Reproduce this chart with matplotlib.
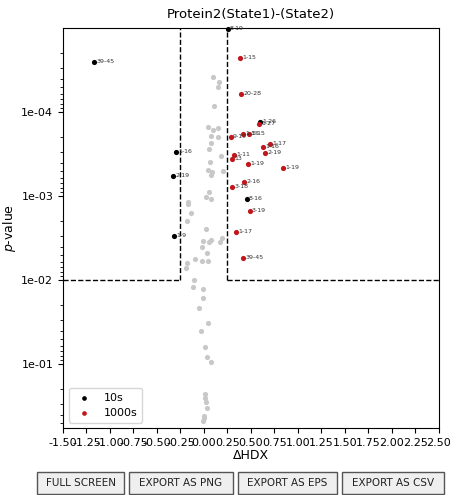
import numpy as np
import matplotlib
matplotlib.use('Agg')
import matplotlib.pyplot as plt
from matplotlib.patches import Rectangle
from matplotlib.ticker import FixedLocator, FuncFormatter

# Пороги
fc_thresh = 0.25
p_thresh = 0.01

# Незначимые точки (серые)
gray_x = [0.096, 0.160, 0.149, 0.106, 0.043, 0.096, 0.149, 0.074, 0.149, 0.074,
          0.053, 0.181, 0.064, 0.043, 0.085, 0.202, 0.074, 0.053, 0.021, 0.074,
          -0.170, -0.170, -0.138, -0.181, 0.021, -0.011, 0.053, 0.074, 0.191, 0.170,
          -0.021, 0.032, -0.096, -0.021, 0.043, -0.181, -0.191, -0.106, -0.117, -0.011,
          -0.011, -0.053, 0.043, -0.032, 0.011, 0.032, 0.074, 0.011, 0.011, 0.021,
          0.032, 0.000, 0.000, -0.011]
gray_p = [3.83e-5, 4.40e-5, 5.04e-5, 8.5e-5, 1.51e-4, 1.64e-4, 1.55e-4, 1.93e-4, 1.99e-4, 2.34e-4,
          2.75e-4, 3.34e-4, 3.94e-4, 4.90e-4, 5.18e-4, 5.04e-4, 5.62e-4, 8.95e-4, 1.03e-3, 1.09e-3,
          1.18e-3, 1.24e-3, 1.59e-3, 1.99e-3, 2.47e-3, 3.44e-3, 3.53e-3, 3.34e-3, 3.16e-3, 3.53e-3,
          4.05e-3, 4.78e-3, 5.62e-3, 5.94e-3, 5.94e-3, 6.28e-3, 7.19e-3, 1.0e-2, 1.21e-2, 1.28e-2,
          1.64e-2, 2.15e-2, 3.25e-2, 4.05e-2, 6.28e-2, 8.26e-2, 9.46e-2, 0.228, 0.254, 0.283,
          0.334, 0.416, 0.440, 0.478]

# 10s (чёрные)
t10_x = [0.255, -1.170, -0.298, -0.330, -0.319, 0.457, 0.596]
t10_p = [1.03e-5, 2.54e-5, 2.99e-4, 5.78e-4, 2.99e-3, 1.09e-3, 1.31e-4]
t10_lab = ['8-19', '39-45', '1-16', '2-19', '1-9', '8-16', '1-26']

# 1000s (красные)
t1000_x = [0.383, 0.394, 0.585, 0.287, 0.415, 0.479, 0.628, 0.702, 0.649, 0.319,
           0.298, 0.468, 0.840, 0.426, 0.298, 0.489, 0.340, 0.415]
t1000_p = [2.28e-5, 6.11e-5, 1.39e-4, 1.99e-4, 1.83e-4, 1.83e-4, 2.61e-4, 2.41e-4, 3.08e-4, 3.25e-4,
           3.63e-4, 4.16e-4, 4.64e-4, 6.81e-4, 7.81e-4, 1.51e-3, 2.68e-3, 5.47e-3]
t1000_lab = ['1-15', '20-28', '1-27', '9-19', '1-15', '5-15', '1-16', '1-17', '2-19', '1-11',
             '13', '1-19', '1-19', '2-16', '3-18', '3-19', '1-17', '39-45']

xticks = np.arange(-1.5, 2.51, 0.25)
yticks = [1e-4, 1e-3, 1e-2, 1e-1]

buttons = ['FULL SCREEN', 'EXPORT AS PNG', 'EXPORT AS EPS', 'EXPORT AS CSV']

red = '#c0161c'

fig = plt.figure(figsize=(4.53, 4.95), dpi=100)
ax = fig.add_axes([0.139, 0.135, 0.830, 0.808])

ax.scatter(gray_x, gray_p, s=14, color='#c8c8c8', linewidths=0, zorder=2)
ax.scatter(t10_x, t10_p, s=14, color='black', linewidths=0, label='10s', zorder=3, clip_on=False)
ax.scatter(t1000_x, t1000_p, s=14, color=red, linewidths=0, label='1000s', zorder=3)

for x, p, lab in zip(t10_x + t1000_x, t10_p + t1000_p, t10_lab + t1000_lab):
    ax.annotate(lab, (x, p), xytext=(1.5, 0.5), textcoords='offset points',
                fontsize=4.5, color='#333333', va='center', ha='left', annotation_clip=False)

# Пороговые линии
xmin, xmax = -1.5, 2.5
ymin, ymax = 0.578, 1.0e-5
ax.plot([xmin, -fc_thresh], [p_thresh, p_thresh], 'k--', lw=1)
ax.plot([fc_thresh, xmax], [p_thresh, p_thresh], 'k--', lw=1)
ax.plot([-fc_thresh, -fc_thresh], [p_thresh, ymax], 'k--', lw=1)
ax.plot([fc_thresh, fc_thresh], [p_thresh, ymax], 'k--', lw=1)

ax.set_yscale('log')
ax.set_xlim(xmin, xmax)
ax.set_ylim(ymin, ymax)
ax.xaxis.set_major_locator(FixedLocator(xticks))
ax.xaxis.set_major_formatter(FuncFormatter(lambda v, pos: f'{v:.2f}'))
ax.yaxis.set_major_locator(FixedLocator(yticks))
ax.yaxis.set_major_formatter(FuncFormatter(lambda v, pos: f'{v:.0e}'))
ax.tick_params(labelsize=8)

ax.set_title('Protein2(State1)-(State2)', fontsize=9.5, pad=7)
ax.set_xlabel('ΔHDX', fontsize=9, labelpad=1)
ax.set_ylabel('$p$-value', fontsize=9, labelpad=2)
ax.legend(loc='lower left', fontsize=8, markerscale=0.9, handletextpad=0.8, borderpad=0.4)

# Кнопки под графиком (пиксели -> доли фигуры)
W, H = 453, 495
btn_x = [37, 129, 238, 342]
btn_w = [87, 104, 99, 102]
for lab, bx, bw in zip(buttons, btn_x, btn_w):
    fig.patches.append(Rectangle((bx / W, 1 - 494 / H), bw / W, 22 / H,
                                 transform=fig.transFigure, facecolor='#efefef',
                                 edgecolor='#555555', lw=1))
    fig.text((bx + bw / 2) / W, 1 - 483 / H, lab, ha='center', va='center',
             fontsize=7.5, color='#222222')

fig.savefig('out.png', dpi=100)
